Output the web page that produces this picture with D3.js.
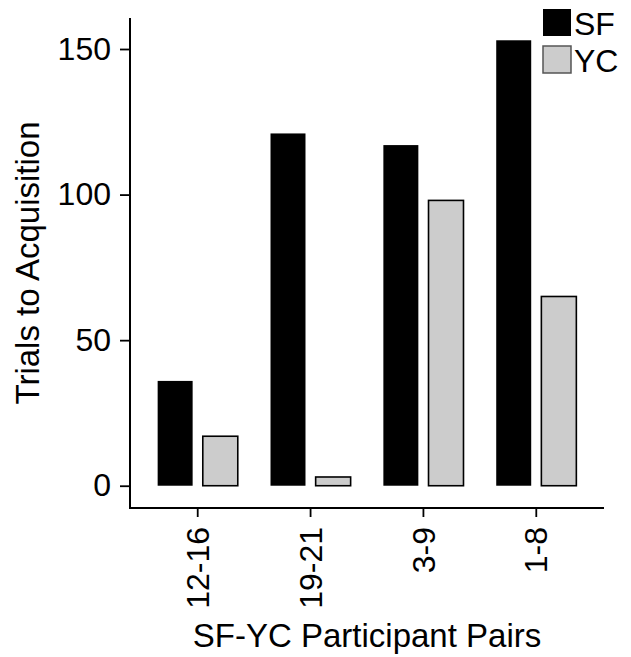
<!DOCTYPE html>
<html>
<head>
<meta charset="utf-8">
<script src="https://cdn.jsdelivr.net/npm/d3@7"></script>
<style>
  html, body { margin: 0; padding: 0; background: #fff; }
  svg { display: block; }
  text { font-family: "Liberation Sans", Arial, Helvetica, sans-serif; fill: #000; }
</style>
</head>
<body>
<svg id="chart" width="631" height="657"></svg>
<script>
const categories = ["12-16", "19-21", "3-9", "1-8"];
const series = ["SF", "YC"];
const sfValues = [36, 121, 117, 153];
const ycValues = [17, 3, 98, 65];
const yTicks = [0, 50, 100, 150];
const seriesColors = ["#000000", "#CCCCCC"];
const yTitle = "Trials to Acquisition";
const xTitle = "SF-YC Participant Pairs";

const svg = d3.select("#chart");
const panel = { left: 130, right: 604, top: 18, bottom: 508 };

const dataMax = d3.max([...sfValues, ...ycValues]);
const pad = dataMax * 0.05;
const y = d3.scaleLinear().domain([0 - pad, dataMax + pad]).range([panel.bottom, panel.top]);

const x = d3.scaleBand().domain(categories).range([panel.left, panel.right])
  .paddingInner(0).paddingOuter(0.1);
const bw = x.bandwidth();
const xs = d3.scaleBand().domain(series).range([0.1 * bw, 0.9 * bw])
  .paddingInner(0.225).paddingOuter(0.1125);
const color = d3.scaleOrdinal().domain(series).range(seriesColors);

const rows = [];
categories.forEach((c, i) => {
  rows.push({ cat: c, s: "SF", v: sfValues[i] });
  rows.push({ cat: c, s: "YC", v: ycValues[i] });
});

// bars
svg.append("g").selectAll("rect").data(rows).join("rect")
  .attr("x", d => x(d.cat) + xs(d.s))
  .attr("width", xs.bandwidth())
  .attr("y", d => y(d.v))
  .attr("height", d => y(0) - y(d.v))
  .attr("fill", d => color(d.s))
  .attr("stroke", "#000")
  .attr("stroke-width", d => d.s === "YC" ? 1.6 : 0);

// y axis
const yAxis = svg.append("g").attr("transform", `translate(${panel.left},0)`)
  .call(d3.axisLeft(y).tickValues(yTicks).tickSize(10).tickPadding(9).tickFormat(d3.format("d")));
yAxis.select(".domain").remove();
yAxis.append("line").attr("x1", 0).attr("x2", 0).attr("y1", panel.top).attr("y2", panel.bottom + 1)
  .attr("stroke", "#000").attr("stroke-width", 2);
yAxis.selectAll(".tick line").attr("stroke", "#000").attr("stroke-width", 1.8);
yAxis.selectAll(".tick text").style("font-size", "32px").attr("fill", "#000");

// x axis
const xAxis = svg.append("g").attr("transform", `translate(0,${panel.bottom})`)
  .call(d3.axisBottom(x).tickSize(9).tickPadding(10));
xAxis.select(".domain").remove();
xAxis.append("line").attr("x1", panel.left - 1).attr("x2", panel.right).attr("y1", 0).attr("y2", 0)
  .attr("stroke", "#000").attr("stroke-width", 2);
xAxis.selectAll(".tick line").attr("stroke", "#000").attr("stroke-width", 1.8);
xAxis.selectAll(".tick text")
  .style("font-size", "32px").attr("fill", "#000")
  .attr("text-anchor", "end")
  .attr("transform", "rotate(-90)")
  .attr("x", -19).attr("y", 0).attr("dy", "0.35em");

// axis titles
svg.append("text")
  .attr("transform", `translate(39,${(panel.top + panel.bottom) / 2}) rotate(-90)`)
  .attr("text-anchor", "middle")
  .style("font-size", "33px")
  .text(yTitle);
svg.append("text")
  .attr("x", (panel.left + panel.right) / 2).attr("y", 647)
  .attr("text-anchor", "middle")
  .style("font-size", "33px")
  .text(xTitle);

// legend
const legend = svg.append("g").attr("transform", "translate(543,9)");
series.forEach((s, i) => {
  const g = legend.append("g").attr("transform", `translate(0,${i * 37})`);
  g.append("rect").attr("x", 0).attr("y", 0).attr("width", 28).attr("height", 27)
    .attr("fill", color(s)).attr("stroke", s === "YC" ? "#555" : "none").attr("stroke-width", 1.5);
  g.append("text").attr("x", 31).attr("y", 26).style("font-size", "32px").text(s);
});
</script>
</body>
</html>
